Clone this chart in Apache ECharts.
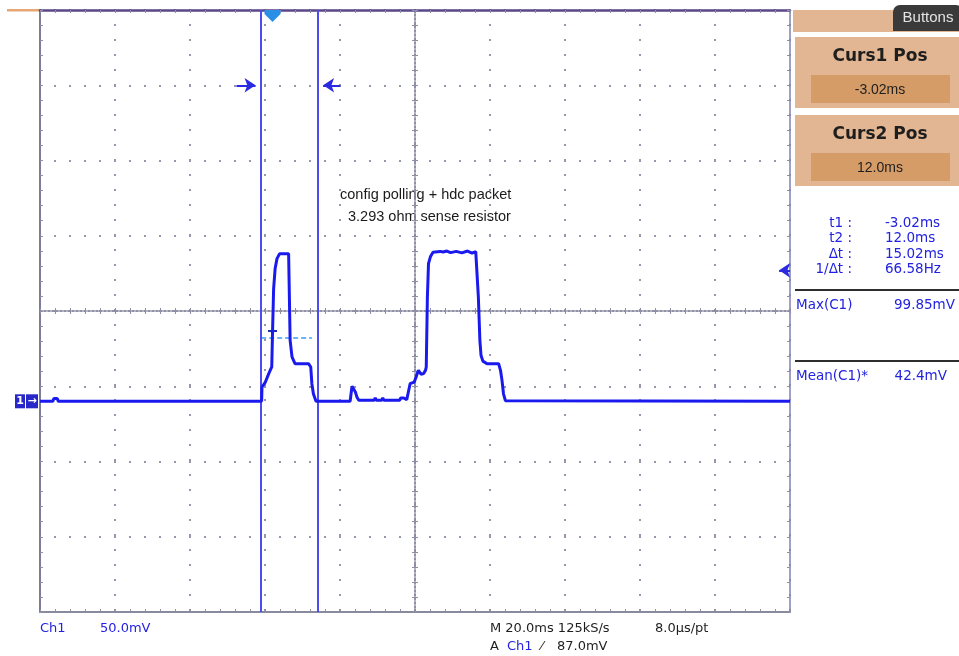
<!DOCTYPE html>
<html><head><meta charset="utf-8">
<script src="https://cdn.jsdelivr.net/npm/echarts@6/dist/echarts.min.js"></script>
<style>html,body{margin:0;padding:0;background:#fff}#c{width:959px;height:656px}</style>
</head><body><div id="c"></div>
<script>
// ---- data (time in ms relative to trigger, Ch1 in mV) ----
const timeMs = [
  -62, -58.6, -58.3, -57.4, -57.1, -2.9, -2.8, -1.9, -1.0, -0.2,
  0.0, 0.3, 0.7, 1.2, 1.9, 4.3, 4.5, 4.7, 5.2, 6.0,
  9.6, 10.2, 10.5, 10.9, 11.6, 20.7, 21.2, 21.6, 22.1, 22.5,
  23.0, 27.1, 27.4, 27.7, 29.1, 29.4, 29.7, 33.9, 34.2, 35.0,
  35.4, 35.8, 36.3, 36.7, 37.8, 38.3, 38.9, 39.6, 40.3, 40.8,
  41.0, 41.3, 41.6, 42.1, 42.8, 44.7, 45.5, 46.5, 47.5, 49.0,
  50.5, 52.0, 53.2, 54.2, 54.7, 54.9, 55.3, 55.6, 56.1, 57.2,
  60.3, 60.8, 61.2, 61.6, 62.1, 138
];
const ch1mV = [
  0, 0, 1.8, 1.8, 0, 0, 9.5, 12.8, 18.4, 22.8,
  45, 74.9, 88.2, 94.8, 98.1, 98.1, 69.3, 40.5, 29.5, 25.0,
  25.0, 22.8, 11.7, 5.0, 0, 0, 10, 10, 6.2, 2.9,
  0.7, 0.7, 2.2, 0.7, 0.7, 2.2, 0.7, 0.7, 2.2, 2.2,
  3.0, 1.0, 7.0, 11.7, 12.8, 16.2, 20.6, 18.0, 18.4, 20.6,
  22.8, 69.0, 91.5, 96.0, 99.0, 99.6, 99.2, 99.85, 98.8, 99.6,
  98.6, 99.85, 98.5, 99.5, 99.5, 69.0, 40.5, 30.6, 26.7, 25.0,
  25.0, 20.6, 13.9, 5.0, 0.4, 0
];
const cursorTimes = [-3.02, 12.0];       // ms
const meanLevel = 42.4;                  // mV
const triggerLevel = 87.0;               // mV
const xRange = [-62, 138, 20];           // ms, 20 ms/div
const yRange = [-140, 260, 50];          // mV, 50 mV/div
const cursorBoxTitles = ['Curs1 Pos', 'Curs2 Pos'];
const cursorBoxValues = ['-3.02ms', '12.0ms'];
const readoutLabels = ['t1 :', 't2 :', '\u0394t :', '1/\u0394t :'];
const readoutValues = ['-3.02ms', '12.0ms', '15.02ms', '66.58Hz'];
const measLabels = ['Max(C1)', 'Mean(C1)*'];
const measValues = ['99.85mV', '42.4mV'];
const noteLines = ['config polling + hdc packet', '3.293 ohm sense resistor'];

// ---- styles ----
const TRACE = '#1a1aee', CURSOR = '#4c4cf0', BLUE_TXT = '#2222e0';
const TICK = {color: '#8e8ea4', width: 1};
const GRID_DOT = {color: '#9696ac', width: 2, type: [2, 13], dashOffset: 1};
const CENTER = {color: '#8a8aa0', width: 1.5, type: [2, 2]};

function xAx(extra) {
  return Object.assign({
    type: 'value', min: xRange[0], max: xRange[1], interval: xRange[2],
    axisLabel: {show: false}, splitLine: {show: false},
    axisTick: {show: true, inside: true, length: 3, lineStyle: TICK},
    minorTick: {show: true, splitNumber: 5, length: 3, lineStyle: TICK}
  }, extra);
}
function yAx(extra) {
  return Object.assign({
    type: 'value', min: yRange[0], max: yRange[1], interval: yRange[2],
    axisLabel: {show: false}, splitLine: {show: false},
    axisTick: {show: true, inside: true, length: 3, lineStyle: TICK},
    minorTick: {show: true, splitNumber: 5, length: 3, lineStyle: TICK}
  }, extra);
}

const chart = echarts.init(document.getElementById('c'), null, {renderer: 'canvas', width: 959, height: 656});
const pts = timeMs.map((t, i) => [t, ch1mV[i]]);

chart.setOption({
  animation: false,
  backgroundColor: '#ffffff',
  grid: {left: 40, top: 10, width: 750, height: 602, containLabel: false, outerBoundsMode: 'none'},
  xAxis: [
    xAx({position: 'bottom', axisLine: {show: true, onZero: false, lineStyle: {color: '#8a8a9e', width: 2}},
         splitLine: {show: true, lineStyle: GRID_DOT}}),
    xAx({position: 'top', axisLine: {show: true, onZero: false, lineStyle: {color: '#5a4688', width: 2.5}}}),
    {type: 'value', min: -1, max: 1, show: false, axisLine: {onZero: false}},
    xAx({position: 'bottom', axisLine: {show: true, onZero: true, onZeroAxisIndex: 2, lineStyle: CENTER},
         axisTick: {show: true, inside: false, length: 3, lineStyle: TICK}}),
    xAx({position: 'top', axisLine: {show: true, onZero: true, onZeroAxisIndex: 2, lineStyle: CENTER},
         axisTick: {show: true, inside: false, length: 3, lineStyle: TICK}})
  ],
  yAxis: [
    yAx({position: 'left', axisLine: {show: true, onZero: false, lineStyle: {color: '#7c7c98', width: 2}},
         splitLine: {show: true, lineStyle: GRID_DOT}}),
    yAx({position: 'right', axisLine: {show: true, onZero: false, lineStyle: {color: '#8282b4', width: 1.5}}}),
    {type: 'value', min: -1, max: 1, show: false, axisLine: {onZero: false}},
    yAx({position: 'left', axisLine: {show: true, onZero: true, onZeroAxisIndex: 2, lineStyle: CENTER},
         axisTick: {show: true, inside: false, length: 3, lineStyle: TICK}}),
    yAx({position: 'right', axisLine: {show: true, onZero: true, onZeroAxisIndex: 2, lineStyle: CENTER},
         axisTick: {show: true, inside: false, length: 3, lineStyle: TICK}})
  ],
  series: [
    { // mean level dashed line between cursors
      type: 'line', data: [], xAxisIndex: 0, yAxisIndex: 0, silent: true,
      markLine: {silent: true, symbol: 'none', animation: false, label: {show: false},
        lineStyle: {color: '#3a9af2', width: 1.5, type: [5, 3]},
        data: [[{coord: [cursorTimes[0], meanLevel]}, {coord: [cursorTimes[1] - 1.5, meanLevel]}]]}
    },
    { // Ch1 trace
      name: 'Ch1', type: 'line', data: pts, xAxisIndex: 0, yAxisIndex: 0,
      showSymbol: false, symbol: 'none', lineStyle: {color: TRACE, width: 3}, z: 5,
      markLine: {silent: true, symbol: 'none', animation: false, label: {show: false},
        lineStyle: {color: CURSOR, width: 2, type: 'solid'},
        data: cursorTimes.map(t => ({xAxis: t}))},
      markPoint: {silent: true, animation: false, label: {show: false},
        data: [
          {coord: [0, yRange[1]], symbol: 'path://M0,0 L16,0 L16,4 L8,12 L0,4 Z', symbolSize: [16, 12],
           symbolOffset: [0, 6], itemStyle: {color: '#2b8fe6'}},
          {coord: [0, meanLevel], symbol: 'path://M0,0 L10,0 L10,2 L7,2 L5,7 L3,2 L0,2 Z', symbolSize: [9, 7],
           symbolOffset: [0, -4], itemStyle: {color: '#1c2fb0'}}
        ]}
    },
    { // cursor arrows + trigger level arrow
      type: 'line', data: [], xAxisIndex: 0, yAxisIndex: 0, silent: true,
      markLine: {silent: true, symbol: ['none', 'arrow'], symbolSize: 11, animation: false, label: {show: false},
        lineStyle: {color: '#2a2ae0', width: 2, type: 'solid'},
        data: [
          [{coord: [cursorTimes[0] - 6.6, 210]}, {coord: [cursorTimes[0] - 1.5, 210]}],
          [{coord: [cursorTimes[1] + 6.1, 210]}, {coord: [cursorTimes[1] + 1.5, 210]}],
          [{coord: [xRange[1], triggerLevel]}, {coord: [xRange[1] - 2.9, triggerLevel]}]
        ]}
    }
  ]
});

const gy = chart.convertToPixel({yAxisIndex: 0}, 0);
const SANS = '"DejaVu Sans", sans-serif';
const ARIAL = '"Liberation Sans", Arial, sans-serif';
const g = [];
// orange stub at top-left
g.push({type: 'rect', shape: {x: 7, y: 9, width: 33, height: 2.5}, style: {fill: '#e6a676'}});
// ground marker "1 ->"
g.push({type: 'rect', shape: {x: 15, y: gy - 7, width: 10, height: 14}, style: {fill: '#2828c8'}});
g.push({type: 'rect', shape: {x: 26, y: gy - 7, width: 12, height: 14}, style: {fill: '#2828c8'}});
g.push({type: 'text', style: {x: 20, y: gy, text: '1', fill: '#fff', font: 'bold 11px ' + SANS, align: 'center', verticalAlign: 'middle'}});
g.push({type: 'text', style: {x: 32, y: gy, text: '\u2192', fill: '#fff', font: 'bold 11px ' + SANS, align: 'center', verticalAlign: 'middle'}});
// annotation
g.push({type: 'text', style: {x: 340, y: 195, text: noteLines[0], fill: '#1a1a1a', font: '14.5px ' + ARIAL, verticalAlign: 'middle'}});
g.push({type: 'text', style: {x: 348, y: 217, text: noteLines[1], fill: '#1a1a1a', font: '14.5px ' + ARIAL, verticalAlign: 'middle'}});
// right panel
g.push({type: 'rect', shape: {x: 793, y: 10, width: 166, height: 22}, style: {fill: '#e2b692'}});
g.push({type: 'rect', shape: {x: 893, y: 5, width: 70, height: 26, r: [7, 7, 0, 0]}, style: {fill: '#3a3a3a'}});
g.push({type: 'text', style: {x: 928, y: 18, text: 'Buttons', fill: '#e4e4e4', font: '15px ' + ARIAL, align: 'center', verticalAlign: 'middle'}});
[37, 115].forEach((top, i) => {
  g.push({type: 'rect', shape: {x: 795, y: top, width: 164, height: 71}, style: {fill: '#e2b692'}});
  g.push({type: 'rect', shape: {x: 811, y: top + 38, width: 139, height: 28}, style: {fill: '#d69c68'}});
  g.push({type: 'text', style: {x: 880, y: top + 20, text: cursorBoxTitles[i], fill: '#1e1e1e', font: 'bold 17px ' + SANS, align: 'center', verticalAlign: 'middle'}});
  g.push({type: 'text', style: {x: 880, y: top + 53, text: cursorBoxValues[i], fill: '#1e1e1e', font: '14px ' + ARIAL, align: 'center', verticalAlign: 'middle'}});
});
readoutLabels.forEach((lab, i) => {
  const y = 223 + i * 15.6;
  g.push({type: 'text', style: {x: 852, y: y, text: lab, fill: BLUE_TXT, font: '13.5px ' + SANS, align: 'right', verticalAlign: 'middle'}});
  g.push({type: 'text', style: {x: 885, y: y, text: readoutValues[i], fill: BLUE_TXT, font: '13.5px ' + SANS, verticalAlign: 'middle'}});
});
[290, 361].forEach((y, i) => {
  g.push({type: 'rect', shape: {x: 795, y: y - 1, width: 164, height: 2}, style: {fill: '#2e2e2e'}});
  g.push({type: 'text', style: {x: 796, y: y + 15, text: measLabels[i], fill: BLUE_TXT, font: '13.5px ' + SANS, verticalAlign: 'middle'}});
  g.push({type: 'text', style: {x: i === 0 ? 955 : 947, y: y + 15, text: measValues[i], fill: BLUE_TXT, font: '13.5px ' + SANS, align: 'right', verticalAlign: 'middle'}});
});
// bottom status text
const F13 = '13px ' + SANS;
g.push({type: 'text', style: {x: 40, y: 629, text: 'Ch1', fill: BLUE_TXT, font: F13, verticalAlign: 'middle'}});
g.push({type: 'text', style: {x: 100, y: 629, text: '50.0mV', fill: BLUE_TXT, font: F13, verticalAlign: 'middle'}});
g.push({type: 'text', style: {x: 490, y: 629, text: 'M 20.0ms 125kS/s', fill: '#1e1e1e', font: F13, verticalAlign: 'middle'}});
g.push({type: 'text', style: {x: 655, y: 629, text: '8.0\u00b5s/pt', fill: '#1e1e1e', font: F13, verticalAlign: 'middle'}});
g.push({type: 'text', style: {x: 490, y: 647, text: 'A', fill: '#1e1e1e', font: F13, verticalAlign: 'middle'}});
g.push({type: 'text', style: {x: 507, y: 647, text: 'Ch1', fill: BLUE_TXT, font: F13, verticalAlign: 'middle'}});
g.push({type: 'text', style: {x: 541, y: 647, text: '\u2044', fill: '#1e1e1e', font: F13, verticalAlign: 'middle'}});
g.push({type: 'text', style: {x: 557, y: 647, text: '87.0mV', fill: '#1e1e1e', font: F13, verticalAlign: 'middle'}});

chart.setOption({graphic: g});
</script>
</body></html>
